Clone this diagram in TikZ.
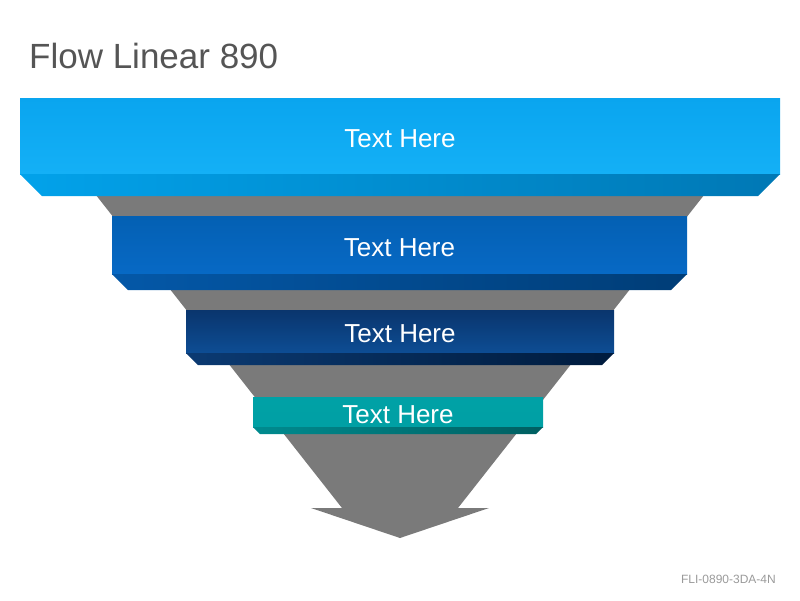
\documentclass[tikz,border=0pt]{standalone}
\usepackage{fontspec}
\setmainfont{Liberation Sans}
\usetikzlibrary{positioning, calc}
\definecolor{titlegray}{HTML}{555555}
\definecolor{codegray}{HTML}{9A9A9A}
\definecolor{funnelgray}{HTML}{7A7A7A}
\definecolor{skyA}{HTML}{0AA5EF}
\definecolor{skyB}{HTML}{14B0F6}
\definecolor{skyL}{HTML}{02A2EA}
\definecolor{skyR}{HTML}{0078B5}
\definecolor{blueA}{HTML}{0460B3}
\definecolor{blueB}{HTML}{0769C5}
\definecolor{blueL}{HTML}{0458A8}
\definecolor{blueR}{HTML}{003D77}
\definecolor{navyA}{HTML}{0A356D}
\definecolor{navyB}{HTML}{0D4D94}
\definecolor{navyL}{HTML}{0B3A72}
\definecolor{navyR}{HTML}{001B3D}
\definecolor{tealA}{HTML}{00A1A6}
\definecolor{tealB}{HTML}{00A0A4}
\definecolor{tealL}{HTML}{008B8F}
\definecolor{tealR}{HTML}{005F61}
\tikzset{
  layer/.style={rectangle, inner sep=0pt, outer sep=0pt, text=white,
    text height=22pt, text depth=0pt, font=\fontsize{26}{30}\selectfont},
  sky/.style={layer, top color=skyA, bottom color=skyB},
  blue/.style={layer, top color=blueA, bottom color=blueB},
  navy/.style={layer, top color=navyA, bottom color=navyB},
  teal/.style={layer, top color=tealA, bottom color=tealB},
  funnel/.style={fill=funnelgray},
}

\begin{document}
\begin{tikzpicture}[x=1pt, y=-1pt]
  \useasboundingbox (0,0) rectangle (800,600);

  % grey funnel arrow behind the layers
  \fill[funnel] (92,190) -- (342,508) -- (311,508) -- (400,538)
    -- (489,508) -- (458,508) -- (708,190) -- cycle;

  % layer faces
  \node[sky, minimum width=760, minimum height=76] (l1) at (400,136) {Text Here};
  \node[blue, minimum width=575, minimum height=58] (l2) at (399.5,245) {Text Here};
  \node[navy, minimum width=428, minimum height=43] (l3) at (400,331.5) {Text Here};
  \node[teal, minimum width=290, minimum height=30] (l4) at (398,412) {Text Here};

  % bevelled bottom edges
  \shade[left color=skyL, right color=skyR] (l1.south west) -- (l1.south east)
    -- ($(l1.south east)+(-22,22)$) -- ($(l1.south west)+(22,22)$) -- cycle;
  \shade[left color=blueL, right color=blueR] (l2.south west) -- (l2.south east)
    -- ($(l2.south east)+(-16,16)$) -- ($(l2.south west)+(16,16)$) -- cycle;
  \shade[left color=navyL, right color=navyR] (l3.south west) -- (l3.south east)
    -- ($(l3.south east)+(-12,12)$) -- ($(l3.south west)+(12,12)$) -- cycle;
  \shade[left color=tealL, right color=tealR] (l4.south west) -- (l4.south east)
    -- ($(l4.south east)+(-7,7)$) -- ($(l4.south west)+(7,7)$) -- cycle;

  \node[anchor=base west, text=titlegray, font=\fontsize{35}{40}\selectfont,
    inner sep=0pt] (title) at (29,68) {Flow Linear 890};
  \node[anchor=base east, text=codegray, font=\fontsize{12}{14}\selectfont,
    inner sep=0pt] (code) at (776,583) {FLI-0890-3DA-4N};
\end{tikzpicture}
\end{document}
